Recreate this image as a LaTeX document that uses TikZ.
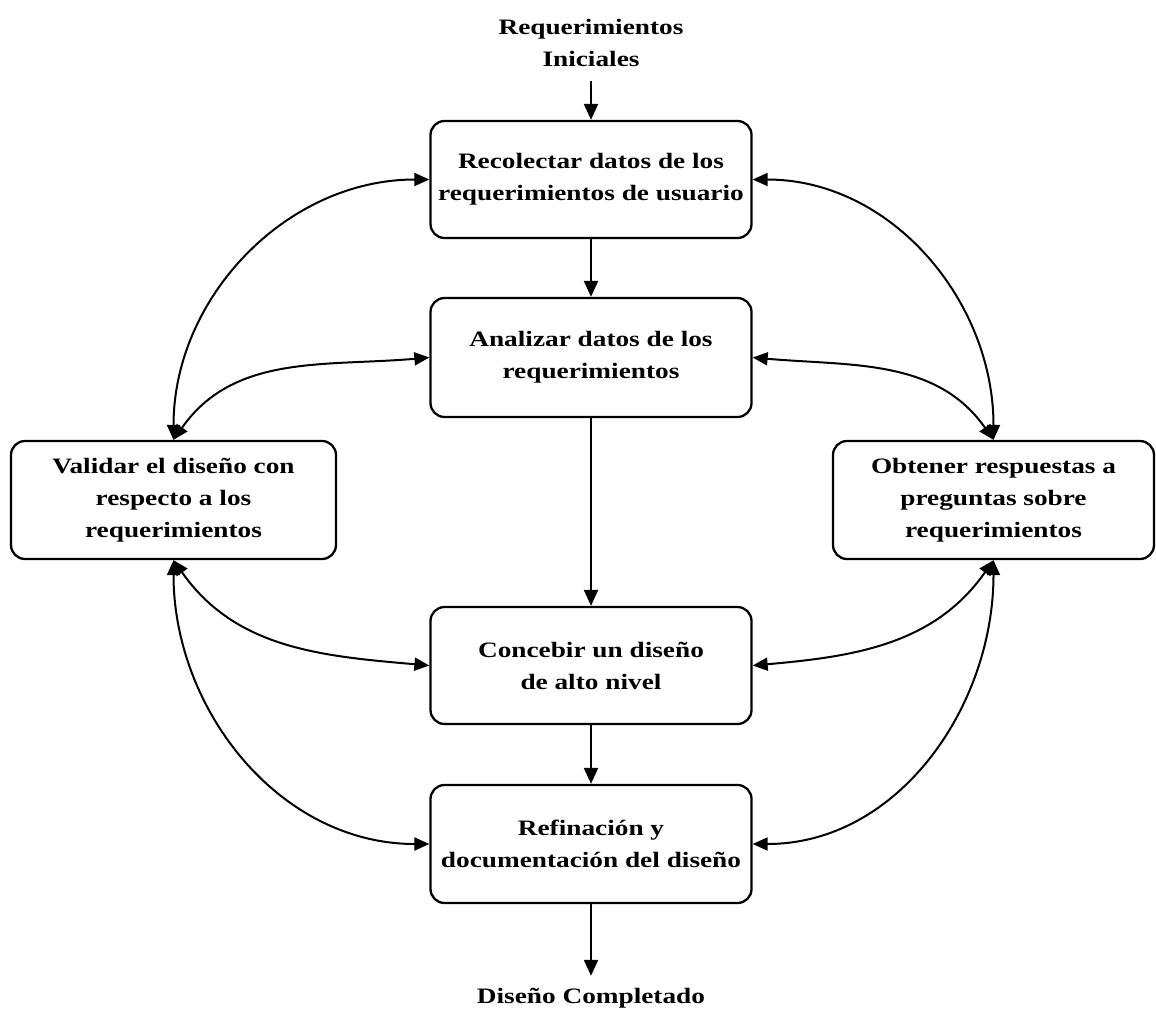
\documentclass[tikz,border=0pt]{standalone}
\usepackage{fontspec}
\setmainfont[FakeStretch=1.24]{Liberation Serif}
\usetikzlibrary{arrows.meta}
\begin{document}
\begin{tikzpicture}[x=1pt,y=1pt,
  stepbox/.style={draw, line width=2.3pt, rounded corners=14pt, align=center,
    font=\fontsize{22}{32}\selectfont\bfseries, inner sep=0pt},
  plain/.style={align=center, font=\fontsize{22}{32}\selectfont\bfseries, inner sep=0pt},
  flow/.style={-{Triangle[length=16pt,width=14pt]}, line width=2.2pt},
  link/.style={{Triangle[length=15pt,width=13pt]}-{Triangle[length=15pt,width=13pt]}, line width=2pt}
]
\useasboundingbox (0,0) rectangle (1156,-1013);

% terminal labels
\node[plain] (ini) at (591,-43) {Requerimientos\\Iniciales};
\node[plain] (fin) at (591,-998) {Diseño Completado};

% main column of steps
\node[stepbox, minimum width=321pt, minimum height=117pt] (b1) at (591,-179.5)
  {Recolectar datos de los\\requerimientos de usuario};
\node[stepbox, minimum width=321pt, minimum height=119pt] (b2) at (591,-357.5)
  {Analizar datos de los\\requerimientos};
\node[stepbox, minimum width=321pt, minimum height=117pt] (b3) at (591,-665.5)
  {Concebir un diseño\\de alto nivel};
\node[stepbox, minimum width=321pt, minimum height=118pt] (b4) at (591,-844)
  {Refinación y\\documentación del diseño};

% side steps
\node[stepbox, minimum width=325pt, minimum height=118pt] (val) at (173.5,-500)
  {Validar el diseño con\\respecto a los\\requerimientos};
\node[stepbox, minimum width=321pt, minimum height=118pt] (obt) at (993.5,-500)
  {Obtener respuestas a\\preguntas sobre\\requerimientos};

% straight flow
\draw[flow, shorten <=14pt] (ini) -- (b1);
\draw[flow] (b1) -- (b2);
\draw[flow] (b2) -- (b3);
\draw[flow] (b3) -- (b4);
\draw[flow, shorten >=12pt] (b4) -- (fin);

% feedback loops, left
\draw[link] (val.north) to[out=90,in=180] (b1.west);
\draw[link] (val.north) to[out=55,in=185] (b2.west);
\draw[link] (val.south) to[out=-55,in=175] (b3.west);
\draw[link] (val.south) to[out=-90,in=180] (b4.west);

% feedback loops, right
\draw[link] (obt.north) to[out=90,in=0] (b1.east);
\draw[link] (obt.north) to[out=125,in=-5] (b2.east);
\draw[link] (obt.south) to[out=-125,in=5] (b3.east);
\draw[link] (obt.south) to[out=-90,in=0] (b4.east);
\end{tikzpicture}
\end{document}
